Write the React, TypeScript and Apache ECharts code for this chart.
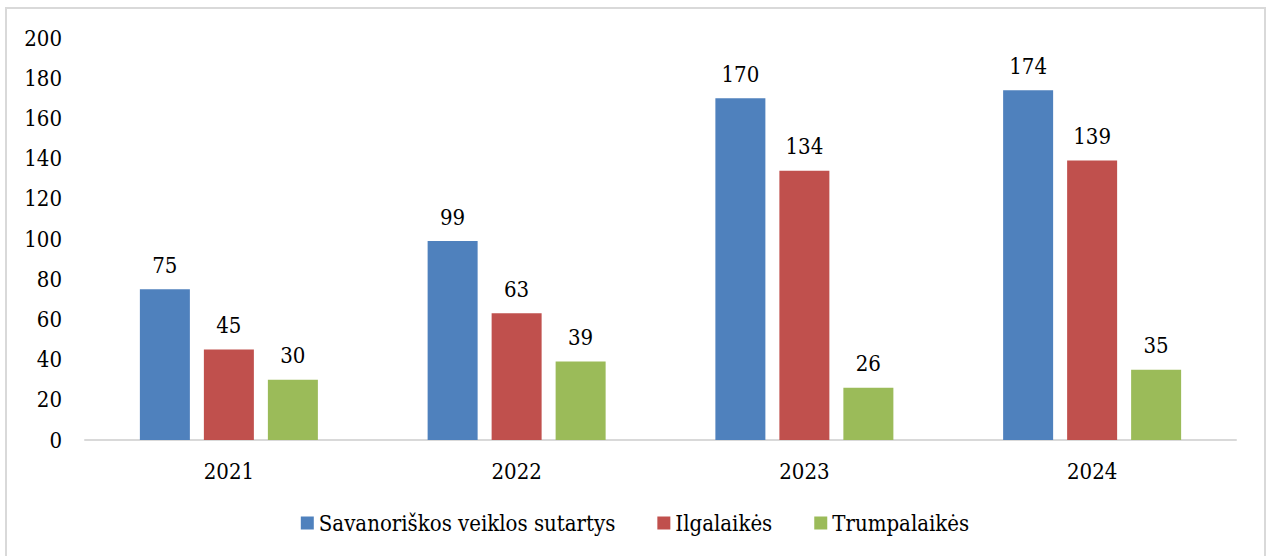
import React, { useEffect, useRef } from "react";
import * as echarts from "echarts";

const years = ["2021", "2022", "2023", "2024"];
const savanoriskos = [75, 99, 170, 174];
const ilgalaikes = [45, 63, 134, 139];
const trumpalaikes = [30, 39, 26, 35];
const seriesNames = ["Savanoriškos veiklos sutartys", "Ilgalaikės", "Trumpalaikės"];
const colors = ["#4f81bd", "#c0504d", "#9bbb59"];

const FONT = "'DejaVu Serif Condensed', 'DejaVu Serif', serif";
const FS = 22;

export default function App() {
  const ref = useRef<HTMLDivElement>(null);
  useEffect(() => {
    if (!ref.current) return;
    const chart = echarts.init(ref.current, undefined, { renderer: "svg" });
    const values = [savanoriskos, ilgalaikes, trumpalaikes];
    chart.setOption({
      animation: false,
      textStyle: { fontFamily: FONT },
      graphic: [
        {
          type: "rect",
          shape: { x: 6, y: 8, width: 1259, height: 570 },
          style: { fill: "none", stroke: "#d9d9d9", lineWidth: 2 },
          silent: true,
        },
      ],
      grid: { left: 85, right: 34, top: 38, bottom: 116 },
      legend: {
        top: 507,
        left: "center",
        itemWidth: 13,
        itemHeight: 13,
        itemGap: 42,
        icon: "rect",
        textStyle: { fontFamily: FONT, fontSize: FS, color: "#000" },
        data: seriesNames,
      },
      xAxis: {
        type: "category",
        data: years,
        axisLine: { lineStyle: { color: "#d9d9d9", width: 2 } },
        axisTick: { show: false },
        axisLabel: { fontFamily: FONT, fontSize: FS, color: "#000", margin: 20 },
      },
      yAxis: {
        type: "value",
        min: 0,
        max: 200,
        interval: 20,
        splitLine: { show: false },
        axisLine: { show: false },
        axisTick: { show: false },
        axisLabel: { fontFamily: FONT, fontSize: FS, color: "#000", margin: 23 },
      },
      series: seriesNames.map((name, i) => ({
        name,
        type: "bar",
        data: values[i],
        barWidth: 50,
        barGap: "28%",
        itemStyle: { color: colors[i] },
        label: {
          show: true,
          position: "top",
          distance: 13,
          fontFamily: FONT,
          fontSize: FS,
          color: "#000",
        },
      })),
    });
    return () => chart.dispose();
  }, []);
  return (
    <div
      ref={ref}
      style={{ position: "fixed", left: 0, top: 0, width: 1270, height: 556, background: "#fff" }}
    />
  );
}
